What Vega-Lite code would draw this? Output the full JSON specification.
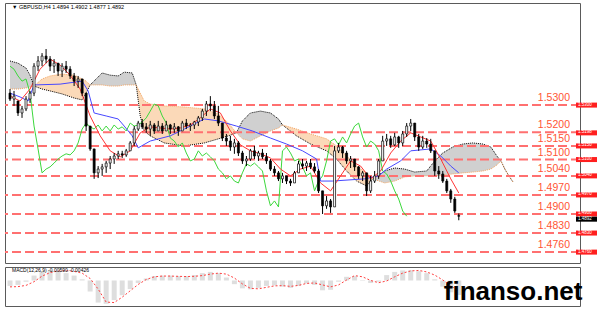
{
  "$schema": "https://vega.github.io/schema/vega-lite/v6.json",
  "background": "white",
  "padding": {"left": 3, "top": 2, "right": 0, "bottom": 0},
  "spacing": 2,
  "config": {"view": {"stroke": "#5a5a5a", "strokeWidth": 1}, "font": "Liberation Sans"},
  "datasets": {
    "candles": [
      {"i":0,"o":1.5344,"h":1.5359,"l":1.5315,"c":1.5322},{"i":2,"o":1.5322,"h":1.5352,"l":1.5297,"c":1.5333},
      {"i":4,"o":1.5315,"h":1.5315,"l":1.5260,"c":1.5271},{"i":6,"o":1.5271,"h":1.5297,"l":1.5253,"c":1.5286},
      {"i":8,"o":1.5286,"h":1.5333,"l":1.5278,"c":1.5322},{"i":10,"o":1.5322,"h":1.5352,"l":1.5308,"c":1.5344},
      {"i":12,"o":1.5344,"h":1.5454,"l":1.5333,"c":1.5443},{"i":14,"o":1.5443,"h":1.5480,"l":1.5425,"c":1.5462},
      {"i":16,"o":1.5462,"h":1.5491,"l":1.5443,"c":1.5480},{"i":18,"o":1.5480,"h":1.5506,"l":1.5454,"c":1.5469},
      {"i":20,"o":1.5469,"h":1.5480,"l":1.5425,"c":1.5443},{"i":22,"o":1.5443,"h":1.5469,"l":1.5418,"c":1.5454},
      {"i":24,"o":1.5454,"h":1.5454,"l":1.5407,"c":1.5425},{"i":26,"o":1.5425,"h":1.5454,"l":1.5403,"c":1.5443},
      {"i":28,"o":1.5443,"h":1.5462,"l":1.5418,"c":1.5432},{"i":30,"o":1.5432,"h":1.5443,"l":1.5396,"c":1.5407},
      {"i":32,"o":1.5407,"h":1.5418,"l":1.5370,"c":1.5388},{"i":34,"o":1.5388,"h":1.5407,"l":1.5363,"c":1.5396},
      {"i":36,"o":1.5396,"h":1.5396,"l":1.5333,"c":1.5344},{"i":38,"o":1.5344,"h":1.5344,"l":1.5205,"c":1.5223},
      {"i":40,"o":1.5223,"h":1.5223,"l":1.5132,"c":1.5139},{"i":42,"o":1.5139,"h":1.5139,"l":1.5029,"c":1.5051},
      {"i":44,"o":1.5051,"h":1.5076,"l":1.5032,"c":1.5065},{"i":46,"o":1.5065,"h":1.5084,"l":1.5040,"c":1.5073},
      {"i":48,"o":1.5073,"h":1.5095,"l":1.5051,"c":1.5087},{"i":50,"o":1.5087,"h":1.5113,"l":1.5065,"c":1.5102},
      {"i":52,"o":1.5102,"h":1.5124,"l":1.5084,"c":1.5113},{"i":54,"o":1.5113,"h":1.5132,"l":1.5102,"c":1.5121},
      {"i":56,"o":1.5121,"h":1.5132,"l":1.5106,"c":1.5117},{"i":58,"o":1.5117,"h":1.5139,"l":1.5110,"c":1.5132},
      {"i":60,"o":1.5132,"h":1.5168,"l":1.5132,"c":1.5161},{"i":62,"o":1.5161,"h":1.5223,"l":1.5150,"c":1.5212},
      {"i":64,"o":1.5212,"h":1.5242,"l":1.5205,"c":1.5234},{"i":66,"o":1.5234,"h":1.5249,"l":1.5212,"c":1.5220},
      {"i":68,"o":1.5220,"h":1.5234,"l":1.5198,"c":1.5212},{"i":70,"o":1.5212,"h":1.5242,"l":1.5187,"c":1.5227},
      {"i":72,"o":1.5227,"h":1.5234,"l":1.5194,"c":1.5205},{"i":74,"o":1.5205,"h":1.5242,"l":1.5205,"c":1.5223},
      {"i":76,"o":1.5223,"h":1.5234,"l":1.5194,"c":1.5205},{"i":78,"o":1.5205,"h":1.5242,"l":1.5205,"c":1.5227},
      {"i":80,"o":1.5227,"h":1.5231,"l":1.5194,"c":1.5212},{"i":82,"o":1.5212,"h":1.5234,"l":1.5198,"c":1.5220},
      {"i":84,"o":1.5220,"h":1.5223,"l":1.5187,"c":1.5205},{"i":86,"o":1.5205,"h":1.5242,"l":1.5205,"c":1.5234},
      {"i":88,"o":1.5234,"h":1.5249,"l":1.5212,"c":1.5223},{"i":90,"o":1.5223,"h":1.5234,"l":1.5205,"c":1.5227},
      {"i":92,"o":1.5227,"h":1.5242,"l":1.5212,"c":1.5238},{"i":94,"o":1.5238,"h":1.5260,"l":1.5223,"c":1.5253},
      {"i":96,"o":1.5253,"h":1.5286,"l":1.5242,"c":1.5278},{"i":98,"o":1.5278,"h":1.5315,"l":1.5260,"c":1.5304},
      {"i":100,"o":1.5304,"h":1.5333,"l":1.5278,"c":1.5297},{"i":102,"o":1.5297,"h":1.5315,"l":1.5249,"c":1.5260},
      {"i":104,"o":1.5260,"h":1.5297,"l":1.5223,"c":1.5234},{"i":106,"o":1.5234,"h":1.5234,"l":1.5168,"c":1.5179},
      {"i":108,"o":1.5179,"h":1.5194,"l":1.5150,"c":1.5168},{"i":110,"o":1.5168,"h":1.5187,"l":1.5132,"c":1.5146},
      {"i":112,"o":1.5146,"h":1.5176,"l":1.5121,"c":1.5161},{"i":114,"o":1.5161,"h":1.5168,"l":1.5113,"c":1.5124},
      {"i":116,"o":1.5124,"h":1.5132,"l":1.5084,"c":1.5095},{"i":118,"o":1.5095,"h":1.5113,"l":1.5076,"c":1.5102},
      {"i":120,"o":1.5102,"h":1.5139,"l":1.5095,"c":1.5132},{"i":122,"o":1.5132,"h":1.5150,"l":1.5102,"c":1.5113},
      {"i":124,"o":1.5113,"h":1.5132,"l":1.5095,"c":1.5124},{"i":126,"o":1.5124,"h":1.5139,"l":1.5102,"c":1.5110},
      {"i":128,"o":1.5110,"h":1.5124,"l":1.5084,"c":1.5095},{"i":130,"o":1.5095,"h":1.5102,"l":1.5058,"c":1.5065},
      {"i":132,"o":1.5065,"h":1.5076,"l":1.5040,"c":1.5051},{"i":134,"o":1.5051,"h":1.5058,"l":1.5021,"c":1.5029},
      {"i":136,"o":1.5029,"h":1.5051,"l":1.5014,"c":1.5040},{"i":138,"o":1.5040,"h":1.5040,"l":1.5010,"c":1.5021},
      {"i":140,"o":1.5021,"h":1.5029,"l":1.5003,"c":1.5014},{"i":142,"o":1.5014,"h":1.5058,"l":1.5014,"c":1.5051},
      {"i":144,"o":1.5051,"h":1.5095,"l":1.5051,"c":1.5084},{"i":146,"o":1.5084,"h":1.5102,"l":1.5065,"c":1.5076},
      {"i":148,"o":1.5076,"h":1.5095,"l":1.5058,"c":1.5087},{"i":150,"o":1.5087,"h":1.5102,"l":1.5065,"c":1.5073},
      {"i":152,"o":1.5073,"h":1.5087,"l":1.5051,"c":1.5058},{"i":154,"o":1.5058,"h":1.5065,"l":1.4977,"c":1.4985},
      {"i":156,"o":1.4985,"h":1.4985,"l":1.4900,"c":1.4930},{"i":158,"o":1.4930,"h":1.4966,"l":1.4919,"c":1.4948},
      {"i":160,"o":1.4948,"h":1.4955,"l":1.4904,"c":1.4926},{"i":162,"o":1.4926,"h":1.5150,"l":1.4926,"c":1.5132},
      {"i":164,"o":1.5132,"h":1.5161,"l":1.5124,"c":1.5146},{"i":166,"o":1.5146,"h":1.5150,"l":1.5106,"c":1.5124},
      {"i":168,"o":1.5124,"h":1.5132,"l":1.5084,"c":1.5095},{"i":170,"o":1.5095,"h":1.5113,"l":1.5069,"c":1.5102},
      {"i":172,"o":1.5102,"h":1.5102,"l":1.5058,"c":1.5073},{"i":174,"o":1.5073,"h":1.5076,"l":1.5029,"c":1.5040},
      {"i":176,"o":1.5040,"h":1.5058,"l":1.5021,"c":1.5051},{"i":178,"o":1.5051,"h":1.5051,"l":1.4966,"c":1.4985},
      {"i":180,"o":1.4985,"h":1.5040,"l":1.4977,"c":1.5021},{"i":182,"o":1.5021,"h":1.5058,"l":1.5014,"c":1.5040},
      {"i":184,"o":1.5040,"h":1.5102,"l":1.5029,"c":1.5095},{"i":186,"o":1.5095,"h":1.5187,"l":1.5095,"c":1.5168},
      {"i":188,"o":1.5168,"h":1.5194,"l":1.5150,"c":1.5176},{"i":190,"o":1.5176,"h":1.5187,"l":1.5143,"c":1.5154},
      {"i":192,"o":1.5154,"h":1.5198,"l":1.5150,"c":1.5183},{"i":194,"o":1.5183,"h":1.5187,"l":1.5143,"c":1.5161},
      {"i":196,"o":1.5161,"h":1.5205,"l":1.5150,"c":1.5194},{"i":198,"o":1.5194,"h":1.5234,"l":1.5183,"c":1.5223},
      {"i":200,"o":1.5223,"h":1.5249,"l":1.5205,"c":1.5234},{"i":202,"o":1.5234,"h":1.5234,"l":1.5168,"c":1.5183},
      {"i":204,"o":1.5183,"h":1.5194,"l":1.5132,"c":1.5146},{"i":206,"o":1.5146,"h":1.5187,"l":1.5139,"c":1.5168},
      {"i":208,"o":1.5168,"h":1.5179,"l":1.5143,"c":1.5157},{"i":210,"o":1.5157,"h":1.5176,"l":1.5124,"c":1.5132},
      {"i":212,"o":1.5132,"h":1.5132,"l":1.5040,"c":1.5058},{"i":214,"o":1.5058,"h":1.5076,"l":1.5029,"c":1.5047},
      {"i":216,"o":1.5047,"h":1.5058,"l":1.5014,"c":1.5021},{"i":218,"o":1.5021,"h":1.5029,"l":1.4977,"c":1.4985},
      {"i":220,"o":1.4985,"h":1.4992,"l":1.4941,"c":1.4955},{"i":222,"o":1.4955,"h":1.4963,"l":1.4904,"c":1.4911},
      {"i":224,"o":1.4894,"h":1.4902,"l":1.4877,"c":1.4892}
    ],
    "tenkan": [
      {"i":0,"v":1.5333},{"i":5,"v":1.5315},{"i":10,"v":1.5359},{"i":15,"v":1.5432},{"i":20,"v":1.5469},
      {"i":25,"v":1.5447},{"i":30,"v":1.5410},{"i":35,"v":1.5359},{"i":40,"v":1.5260},{"i":45,"v":1.5187},
      {"i":50,"v":1.5132},{"i":55,"v":1.5110},{"i":60,"v":1.5132},{"i":65,"v":1.5198},{"i":70,"v":1.5220},
      {"i":75,"v":1.5216},{"i":80,"v":1.5212},{"i":85,"v":1.5216},{"i":90,"v":1.5227},{"i":95,"v":1.5253},
      {"i":100,"v":1.5286},{"i":105,"v":1.5271},{"i":110,"v":1.5205},{"i":115,"v":1.5154},{"i":120,"v":1.5132},
      {"i":125,"v":1.5121},{"i":130,"v":1.5106},{"i":135,"v":1.5065},{"i":140,"v":1.5040},{"i":145,"v":1.5065},
      {"i":150,"v":1.5076},{"i":155,"v":1.5014},{"i":160,"v":1.4985},{"i":165,"v":1.5040},{"i":170,"v":1.5095},
      {"i":175,"v":1.5076},{"i":180,"v":1.5029},{"i":185,"v":1.5058},{"i":190,"v":1.5124},{"i":195,"v":1.5168},
      {"i":200,"v":1.5198},{"i":205,"v":1.5183},{"i":210,"v":1.5168},{"i":215,"v":1.5102},{"i":220,"v":1.5029},
      {"i":224,"v":1.4977}
    ],
    "kijun": [
      {"i":0,"v":1.5344},{"i":5,"v":1.5330},{"i":9,"v":1.5315},{"i":12,"v":1.5374},{"i":25,"v":1.5377},
      {"i":36,"v":1.5388},{"i":39,"v":1.5352},{"i":42,"v":1.5271},{"i":48,"v":1.5260},{"i":54,"v":1.5249},
      {"i":57,"v":1.5223},{"i":61,"v":1.5187},{"i":64,"v":1.5143},{"i":70,"v":1.5168},{"i":80,"v":1.5187},
      {"i":87,"v":1.5212},{"i":97,"v":1.5249},{"i":104,"v":1.5242},{"i":113,"v":1.5223},{"i":121,"v":1.5205},
      {"i":130,"v":1.5179},{"i":138,"v":1.5157},{"i":146,"v":1.5132},{"i":153,"v":1.5102},{"i":155,"v":1.5021},
      {"i":161,"v":1.5021},{"i":177,"v":1.5029},{"i":184,"v":1.5040},{"i":188,"v":1.5065},{"i":195,"v":1.5095},
      {"i":200,"v":1.5132},{"i":210,"v":1.5139},{"i":215,"v":1.5113},{"i":220,"v":1.5076},{"i":224,"v":1.5051}
    ],
    "chikou": [
      {"i":0,"v":1.5443},{"i":2,"v":1.5432},{"i":4,"v":1.5407},{"i":6,"v":1.5388},{"i":8,"v":1.5396},
      {"i":10,"v":1.5344},{"i":12,"v":1.5223},{"i":14,"v":1.5139},{"i":16,"v":1.5051},{"i":18,"v":1.5065},
      {"i":20,"v":1.5073},{"i":22,"v":1.5087},{"i":24,"v":1.5102},{"i":26,"v":1.5113},{"i":28,"v":1.5121},
      {"i":30,"v":1.5117},{"i":32,"v":1.5132},{"i":34,"v":1.5161},{"i":36,"v":1.5212},{"i":38,"v":1.5234},
      {"i":40,"v":1.5220},{"i":42,"v":1.5212},{"i":44,"v":1.5227},{"i":46,"v":1.5205},{"i":48,"v":1.5223},
      {"i":50,"v":1.5205},{"i":52,"v":1.5227},{"i":54,"v":1.5212},{"i":56,"v":1.5220},{"i":58,"v":1.5205},
      {"i":60,"v":1.5234},{"i":62,"v":1.5223},{"i":64,"v":1.5227},{"i":66,"v":1.5238},{"i":68,"v":1.5253},
      {"i":70,"v":1.5278},{"i":72,"v":1.5304},{"i":74,"v":1.5297},{"i":76,"v":1.5260},{"i":78,"v":1.5234},
      {"i":80,"v":1.5179},{"i":82,"v":1.5168},{"i":84,"v":1.5146},{"i":86,"v":1.5161},{"i":88,"v":1.5124},
      {"i":90,"v":1.5095},{"i":92,"v":1.5102},{"i":94,"v":1.5132},{"i":96,"v":1.5113},{"i":98,"v":1.5124},
      {"i":100,"v":1.5110},{"i":102,"v":1.5095},{"i":104,"v":1.5065},{"i":106,"v":1.5051},{"i":108,"v":1.5029},
      {"i":110,"v":1.5040},{"i":112,"v":1.5021},{"i":114,"v":1.5014},{"i":116,"v":1.5051},{"i":118,"v":1.5084},
      {"i":120,"v":1.5076},{"i":122,"v":1.5087},{"i":124,"v":1.5073},{"i":126,"v":1.5058},{"i":128,"v":1.4985},
      {"i":130,"v":1.4930},{"i":132,"v":1.4948},{"i":134,"v":1.4926},{"i":136,"v":1.5132},{"i":138,"v":1.5146},
      {"i":140,"v":1.5124},{"i":142,"v":1.5095},{"i":144,"v":1.5102},{"i":146,"v":1.5073},{"i":148,"v":1.5040},
      {"i":150,"v":1.5051},{"i":152,"v":1.4985},{"i":154,"v":1.5021},{"i":156,"v":1.5040},{"i":158,"v":1.5095},
      {"i":160,"v":1.5168},{"i":162,"v":1.5176},{"i":164,"v":1.5154},{"i":166,"v":1.5183},{"i":168,"v":1.5161},
      {"i":170,"v":1.5194},{"i":172,"v":1.5223},{"i":174,"v":1.5234},{"i":176,"v":1.5183},{"i":178,"v":1.5146},
      {"i":180,"v":1.5168},{"i":182,"v":1.5157},{"i":184,"v":1.5132},{"i":186,"v":1.5058},{"i":188,"v":1.5047},
      {"i":190,"v":1.5021},{"i":192,"v":1.4985},{"i":194,"v":1.4955},{"i":196,"v":1.4911},{"i":198,"v":1.4892}
    ],
    "cloud": [
      {"i":0,"a":1.5359,"b":1.5462,"s":1,"t":"dn"},{"i":4,"a":1.5359,"b":1.5454,"s":1,"t":"dn"},
      {"i":8,"a":1.5363,"b":1.5436,"s":1,"t":"dn"},{"i":10,"a":1.5366,"b":1.5410,"s":1,"t":"dn"},
      {"i":12,"a":1.5370,"b":1.5370,"s":1,"t":"dn"},
      {"i":12,"a":1.5370,"b":1.5370,"s":2,"t":"up"},{"i":16,"a":1.5396,"b":1.5359,"s":2,"t":"up"},
      {"i":20,"a":1.5407,"b":1.5352,"s":2,"t":"up"},{"i":26,"a":1.5414,"b":1.5341,"s":2,"t":"up"},
      {"i":32,"a":1.5410,"b":1.5326,"s":2,"t":"up"},{"i":36,"a":1.5396,"b":1.5319,"s":2,"t":"up"},
      {"i":38,"a":1.5388,"b":1.5344,"s":2,"t":"up"},{"i":40,"a":1.5374,"b":1.5374,"s":2,"t":"up"},
      {"i":40,"a":1.5374,"b":1.5374,"s":3,"t":"dn"},{"i":43,"a":1.5374,"b":1.5396,"s":3,"t":"dn"},
      {"i":46,"a":1.5374,"b":1.5418,"s":3,"t":"dn"},{"i":50,"a":1.5370,"b":1.5410,"s":3,"t":"dn"},
      {"i":54,"a":1.5370,"b":1.5407,"s":3,"t":"dn"},{"i":57,"a":1.5374,"b":1.5421,"s":3,"t":"dn"},
      {"i":61,"a":1.5374,"b":1.5418,"s":3,"t":"dn"},{"i":63,"a":1.5374,"b":1.5374,"s":3,"t":"dn"},
      {"i":63,"a":1.5374,"b":1.5374,"s":4,"t":"up"},{"i":65,"a":1.5344,"b":1.5260,"s":4,"t":"up"},
      {"i":67,"a":1.5315,"b":1.5205,"s":4,"t":"up"},{"i":70,"a":1.5304,"b":1.5187,"s":4,"t":"up"},
      {"i":77,"a":1.5297,"b":1.5161,"s":4,"t":"up"},{"i":87,"a":1.5293,"b":1.5150,"s":4,"t":"up"},
      {"i":97,"a":1.5286,"b":1.5161,"s":4,"t":"up"},{"i":104,"a":1.5267,"b":1.5176,"s":4,"t":"up"},
      {"i":109,"a":1.5234,"b":1.5187,"s":4,"t":"up"},{"i":113,"a":1.5198,"b":1.5198,"s":4,"t":"up"},
      {"i":113,"a":1.5198,"b":1.5198,"s":5,"t":"dn"},{"i":116,"a":1.5176,"b":1.5242,"s":5,"t":"dn"},
      {"i":120,"a":1.5168,"b":1.5271,"s":5,"t":"dn"},{"i":125,"a":1.5187,"b":1.5278,"s":5,"t":"dn"},
      {"i":130,"a":1.5205,"b":1.5271,"s":5,"t":"dn"},{"i":134,"a":1.5216,"b":1.5249,"s":5,"t":"dn"},
      {"i":136,"a":1.5227,"b":1.5227,"s":5,"t":"dn"},
      {"i":136,"a":1.5227,"b":1.5227,"s":6,"t":"up"},{"i":143,"a":1.5212,"b":1.5187,"s":6,"t":"up"},
      {"i":150,"a":1.5194,"b":1.5157,"s":6,"t":"up"},{"i":158,"a":1.5176,"b":1.5132,"s":6,"t":"up"},
      {"i":163,"a":1.5150,"b":1.5102,"s":6,"t":"up"},{"i":168,"a":1.5113,"b":1.5058,"s":6,"t":"up"},
      {"i":173,"a":1.5076,"b":1.5021,"s":6,"t":"up"},{"i":178,"a":1.5051,"b":1.5003,"s":6,"t":"up"},
      {"i":181,"a":1.5029,"b":1.5029,"s":6,"t":"up"},
      {"i":181,"a":1.5029,"b":1.5029,"s":7,"t":"dn"},{"i":187,"a":1.5014,"b":1.5058,"s":7,"t":"dn"},
      {"i":192,"a":1.5021,"b":1.5069,"s":7,"t":"dn"},{"i":197,"a":1.5036,"b":1.5065,"s":7,"t":"dn"},
      {"i":202,"a":1.5040,"b":1.5054,"s":7,"t":"dn"},{"i":208,"a":1.5040,"b":1.5058,"s":7,"t":"dn"},
      {"i":212,"a":1.5040,"b":1.5095,"s":7,"t":"dn"},{"i":216,"a":1.5043,"b":1.5124,"s":7,"t":"dn"},
      {"i":221,"a":1.5047,"b":1.5146,"s":7,"t":"dn"},{"i":226,"a":1.5051,"b":1.5157,"s":7,"t":"dn"},
      {"i":231,"a":1.5054,"b":1.5161,"s":7,"t":"dn"},{"i":236,"a":1.5058,"b":1.5157,"s":7,"t":"dn"},
      {"i":240,"a":1.5065,"b":1.5146,"s":7,"t":"dn"},{"i":243,"a":1.5080,"b":1.5113,"s":7,"t":"dn"},
      {"i":245,"a":1.5095,"b":1.5095,"s":7,"t":"dn"},
      {"i":245,"a":1.5095,"b":1.5095,"s":8,"t":"up"},{"i":247,"a":1.5065,"b":1.5065,"s":8,"t":"up"},
      {"i":249,"a":1.5040,"b":1.5040,"s":8,"t":"up"},{"i":251,"a":1.5018,"b":1.5018,"s":8,"t":"up"}
    ],
    "levels": [
      {"v":1.5300,"t":"1.5300"},{"v":1.5200,"t":"1.5200"},{"v":1.5150,"t":"1.5150"},{"v":1.5100,"t":"1.5100"},
      {"v":1.5040,"t":"1.5040"},{"v":1.4970,"t":"1.4970"},{"v":1.4900,"t":"1.4900"},{"v":1.4830,"t":"1.4830"},
      {"v":1.4760,"t":"1.4760"}
    ],
    "boxes": [
      {"v":1.5300,"t":"1.5300"},{"v":1.5198,"t":"1.5198"},{"v":1.5150,"t":"1.5150"},
      {"v":1.5100,"t":"1.5100"},{"v":1.5040,"t":"1.5040"},{"v":1.4970,"t":"1.4970"},
      {"v":1.4900,"t":"1.4900"},{"v":1.4830,"t":"1.4830"},{"v":1.4760,"t":"1.4760"}
    ],
    "bid": [{"v":1.4892,"t":"1.4892"}],
    "macd": [
      {"i":0,"m":-0.0022,"s":-0.0026},{"i":4,"m":-0.0018,"s":-0.0025},{"i":8,"m":-0.0005,"s":-0.0020},
      {"i":12,"m":0.0020,"s":-0.0005},{"i":16,"m":0.0038,"s":0.0018},{"i":20,"m":0.0041,"s":0.0032},
      {"i":24,"m":0.0038,"s":0.0039},{"i":28,"m":0.0030,"s":0.0040},{"i":32,"m":0.0020,"s":0.0037},
      {"i":36,"m":0.0005,"s":0.0030},{"i":40,"m":-0.0045,"s":0.0008},{"i":44,"m":-0.0090,"s":-0.0035},
      {"i":48,"m":-0.0095,"s":-0.0088},{"i":52,"m":-0.0080,"s":-0.0090},{"i":56,"m":-0.0060,"s":-0.0068},
      {"i":60,"m":-0.0035,"s":-0.0042},{"i":64,"m":-0.0010,"s":-0.0016},{"i":68,"m":0.0008,"s":0.0004},
      {"i":72,"m":0.0018,"s":0.0015},{"i":76,"m":0.0020,"s":0.0018},{"i":80,"m":0.0020,"s":0.0018},
      {"i":84,"m":0.0018,"s":0.0017},{"i":88,"m":0.0018,"s":0.0016},{"i":92,"m":0.0022,"s":0.0017},
      {"i":96,"m":0.0030,"s":0.0020},{"i":100,"m":0.0035,"s":0.0026},{"i":104,"m":0.0030,"s":0.0030},
      {"i":108,"m":0.0012,"s":0.0026},{"i":112,"m":-0.0015,"s":0.0010},{"i":116,"m":-0.0032,"s":-0.0014},
      {"i":120,"m":-0.0036,"s":-0.0032},{"i":124,"m":-0.0030,"s":-0.0034},{"i":128,"m":-0.0022,"s":-0.0028},
      {"i":132,"m":-0.0020,"s":-0.0022},{"i":136,"m":-0.0025,"s":-0.0021},{"i":140,"m":-0.0030,"s":-0.0024},
      {"i":144,"m":-0.0022,"s":-0.0020},{"i":148,"m":-0.0012,"s":-0.0012},{"i":152,"m":-0.0018,"s":-0.0010},
      {"i":156,"m":-0.0040,"s":-0.0018},{"i":160,"m":-0.0038,"s":-0.0026},{"i":164,"m":-0.0005,"s":-0.0018},
      {"i":168,"m":0.0015,"s":0.0002},{"i":172,"m":0.0018,"s":0.0020},{"i":176,"m":0.0002,"s":0.0015},
      {"i":180,"m":-0.0010,"s":0.0000},{"i":184,"m":-0.0005,"s":-0.0009},{"i":188,"m":0.0022,"s":-0.0002},
      {"i":192,"m":0.0035,"s":0.0015},{"i":196,"m":0.0041,"s":0.0030},{"i":200,"m":0.0042,"s":0.0039},
      {"i":204,"m":0.0038,"s":0.0041},{"i":208,"m":0.0030,"s":0.0035},{"i":212,"m":0.0005,"s":0.0022},
      {"i":216,"m":-0.0025,"s":0.0002},{"i":220,"m":-0.0048,"s":-0.0022},{"i":224,"m":-0.0059,"s":-0.0043}
    ],
    "hdr": [{"t":"▼ GBPUSD,H4  1.4894 1.4902 1.4877 1.4892"}],
    "mhdr": [{"t":"MACD(12,26,9) -0.00590 -0.00426"}],
    "wm": [{"t":"finanso.net"}]
  },
  "vconcat": [
    {
      "width": 575,
      "height": 260,
      "layer": [
        {
          "data": {"name": "cloud"},
          "mark": {"type": "area"},
          "encoding": {
            "x": {"field": "i", "type": "quantitative", "title": null, "scale": {"domain": [0, 282], "nice": false, "zero": false},
              "axis": {"values": [0,8,16,24,32,40,48,56,64,72,80,88,96,104,112,120,128,136,144,152,160,168,176,184,192,200,208,216,224,232,240,248,256,264,272,280], "labels": false, "ticks": false, "domain": false, "grid": true, "gridColor": "#b4b4b4", "gridDash": [1, 2], "title": null}},
            "y": {"field": "a", "type": "quantitative", "title": null, "scale": {"domain": [1.472, 1.5675], "nice": false, "zero": false},
              "axis": {"orient": "right", "values": [1.4725,1.479,1.4855,1.492,1.4985,1.505,1.5115,1.518,1.5245,1.531,1.5375,1.544,1.5505,1.557,1.5635], "format": ".4f", "labelFontSize": 5.5, "labelColor": "#000000", "tickSize": 2, "tickColor": "#000000", "labelPadding": 2, "domain": false, "grid": true, "gridColor": "#b4b4b4", "gridDash": [1, 2], "labelOverlap": false, "title": null}},
            "y2": {"field": "b"},
            "color": {"condition": {"test": "datum.t == 'up'", "value": "#fbd9b8"}, "value": "#d0d0d0"},
            "detail": {"field": "s", "type": "nominal"}
          }
        },
        {
          "data": {"name": "cloud"},
          "mark": {"type": "line", "stroke": "#000000", "strokeWidth": 1, "strokeDash": [1, 1]},
          "encoding": {
            "x": {"field": "i", "type": "quantitative", "title": null, "scale": {"domain": [0, 282], "nice": false, "zero": false}, "axis": null},
            "y": {"field": "b", "type": "quantitative", "title": null, "scale": {"domain": [1.472, 1.5675], "nice": false, "zero": false}, "axis": null}
          }
        },
        {
          "data": {"name": "cloud"},
          "mark": {"type": "line", "stroke": "#f4a460", "strokeWidth": 1, "strokeDash": [1, 1]},
          "encoding": {
            "x": {"field": "i", "type": "quantitative", "title": null, "scale": {"domain": [0, 282], "nice": false, "zero": false}, "axis": null},
            "y": {"field": "a", "type": "quantitative", "title": null, "scale": {"domain": [1.472, 1.5675], "nice": false, "zero": false}, "axis": null}
          }
        },
        {
          "data": {"name": "levels"},
          "mark": {"type": "rule", "stroke": "#ff7070", "strokeWidth": 2, "strokeDash": [9, 4]},
          "encoding": {
            "y": {"field": "v", "type": "quantitative", "title": null, "scale": {"domain": [1.472, 1.5675], "nice": false, "zero": false}, "axis": null}
          }
        },
        {
          "data": {"name": "chikou"},
          "mark": {"type": "line", "stroke": "#3cd83c", "strokeWidth": 1},
          "encoding": {
            "x": {"field": "i", "type": "quantitative", "title": null, "scale": {"domain": [0, 282], "nice": false, "zero": false}, "axis": null},
            "y": {"field": "v", "type": "quantitative", "title": null, "scale": {"domain": [1.472, 1.5675], "nice": false, "zero": false}, "axis": null}
          }
        },
        {
          "data": {"name": "kijun"},
          "mark": {"type": "line", "stroke": "#4848ff", "strokeWidth": 1},
          "encoding": {
            "x": {"field": "i", "type": "quantitative", "title": null, "scale": {"domain": [0, 282], "nice": false, "zero": false}, "axis": null},
            "y": {"field": "v", "type": "quantitative", "title": null, "scale": {"domain": [1.472, 1.5675], "nice": false, "zero": false}, "axis": null}
          }
        },
        {
          "data": {"name": "tenkan"},
          "mark": {"type": "line", "stroke": "#ff3535", "strokeWidth": 1},
          "encoding": {
            "x": {"field": "i", "type": "quantitative", "title": null, "scale": {"domain": [0, 282], "nice": false, "zero": false}, "axis": null},
            "y": {"field": "v", "type": "quantitative", "title": null, "scale": {"domain": [1.472, 1.5675], "nice": false, "zero": false}, "axis": null}
          }
        },
        {
          "data": {"name": "candles"},
          "mark": {"type": "rule", "stroke": "#000000", "strokeWidth": 1},
          "encoding": {
            "x": {"field": "i", "type": "quantitative", "title": null, "scale": {"domain": [0, 282], "nice": false, "zero": false}, "axis": null},
            "y": {"field": "l", "type": "quantitative", "title": null, "scale": {"domain": [1.472, 1.5675], "nice": false, "zero": false}, "axis": null},
            "y2": {"field": "h"}
          }
        },
        {
          "data": {"name": "candles"},
          "mark": {"type": "bar", "width": 2, "stroke": "#000000", "strokeWidth": 0.7},
          "encoding": {
            "x": {"field": "i", "type": "quantitative", "title": null, "scale": {"domain": [0, 282], "nice": false, "zero": false}, "axis": null},
            "y": {"field": "o", "type": "quantitative", "title": null, "scale": {"domain": [1.472, 1.5675], "nice": false, "zero": false}, "axis": null},
            "y2": {"field": "c"},
            "color": {"condition": {"test": "datum.c >= datum.o", "value": "#ffffff"}, "value": "#000000"}
          }
        },
        {
          "data": {"name": "levels"},
          "mark": {"type": "text", "align": "right", "baseline": "bottom", "dy": -2, "fontSize": 10.5, "color": "#ff5533"},
          "encoding": {
            "x": {"datum": 279.5, "type": "quantitative", "scale": {"domain": [0, 282], "nice": false, "zero": false}, "axis": null},
            "y": {"field": "v", "type": "quantitative", "title": null, "scale": {"domain": [1.472, 1.5675], "nice": false, "zero": false}, "axis": null},
            "text": {"field": "t"}
          }
        },
        {
          "data": {"name": "boxes"},
          "mark": {"type": "point", "shape": "M0,-1H8.4V1H0Z", "filled": true, "size": 25, "opacity": 1, "xOffset": 1, "color": "#ff1f1f", "strokeWidth": 0},
          "encoding": {
            "x": {"datum": 282, "type": "quantitative", "scale": {"domain": [0, 282], "nice": false, "zero": false}, "axis": null},
            "y": {"field": "v", "type": "quantitative", "title": null, "scale": {"domain": [1.472, 1.5675], "nice": false, "zero": false}, "axis": null}
          }
        },
        {
          "data": {"name": "bid"},
          "mark": {"type": "point", "shape": "M0,-1H8.4V1H0Z", "filled": true, "size": 25, "opacity": 1, "xOffset": 1, "yOffset": 3, "color": "#000000", "strokeWidth": 0},
          "encoding": {
            "x": {"datum": 282, "type": "quantitative", "scale": {"domain": [0, 282], "nice": false, "zero": false}, "axis": null},
            "y": {"field": "v", "type": "quantitative", "title": null, "scale": {"domain": [1.472, 1.5675], "nice": false, "zero": false}, "axis": null}
          }
        },
        {
          "data": {"name": "boxes"},
          "mark": {"type": "text", "align": "left", "baseline": "middle", "dx": 3, "dy": -0.5, "fontSize": 4.5, "color": "#ffffff"},
          "encoding": {
            "x": {"datum": 282, "type": "quantitative", "scale": {"domain": [0, 282], "nice": false, "zero": false}, "axis": null},
            "y": {"field": "v", "type": "quantitative", "title": null, "scale": {"domain": [1.472, 1.5675], "nice": false, "zero": false}, "axis": null},
            "text": {"field": "t"}
          }
        },
        {
          "data": {"name": "bid"},
          "mark": {"type": "text", "align": "left", "baseline": "middle", "dx": 3, "dy": 3, "fontSize": 4.5, "color": "#ffffff"},
          "encoding": {
            "x": {"datum": 282, "type": "quantitative", "scale": {"domain": [0, 282], "nice": false, "zero": false}, "axis": null},
            "y": {"field": "v", "type": "quantitative", "title": null, "scale": {"domain": [1.472, 1.5675], "nice": false, "zero": false}, "axis": null},
            "text": {"field": "t"}
          }
        },
        {
          "data": {"name": "hdr"},
          "mark": {"type": "text", "align": "left", "baseline": "top", "dx": 2, "dy": 2, "fontSize": 5.5, "color": "#000000", "font": "Liberation Sans, DejaVu Sans"},
          "encoding": {
            "x": {"datum": 0, "type": "quantitative", "scale": {"domain": [0, 282], "nice": false, "zero": false}, "axis": null},
            "y": {"datum": 1.5675, "type": "quantitative", "scale": {"domain": [1.472, 1.5675], "nice": false, "zero": false}, "axis": null},
            "text": {"field": "t"}
          }
        }
      ]
    },
    {
      "width": 575,
      "height": 39,
      "layer": [
        {
          "data": {"name": "macd"},
          "mark": {"type": "bar", "width": 5, "fill": "#dedede", "strokeWidth": 0},
          "encoding": {
            "x": {"field": "i", "type": "quantitative", "title": null, "scale": {"domain": [0, 282], "nice": false, "zero": false},
              "axis": {"values": [0,8,16,24,32,40,48,56,64,72,80,88,96,104,112,120,128,136,144,152,160,168,176,184,192,200,208,216,224,232,240,248,256,264,272,280],
                "labelExpr": "datum.value % 16 == 0 && datum.value <= 224 ? ['28 Oct 2015','2 Nov 04:00','4 Nov 20:00','9 Nov 08:00','12 Nov 00:00','16 Nov 12:00','19 Nov 04:00','23 Nov 16:00','26 Nov 08:00','30 Nov 20:00','3 Dec 12:00','8 Dec 00:00','10 Dec 16:00','15 Dec 04:00','17 Dec 20:00'][datum.value / 16] : ''",
                "labelFontSize": 5, "labelColor": "#000000", "labelAlign": "left", "labelBaseline": "top", "labelPadding": 3, "ticks": false, "domain": false, "grid": true, "gridColor": "#b4b4b4", "gridDash": [1, 2], "labelOverlap": false, "labelFlush": false, "labelBound": false, "title": null}},
            "y": {"field": "m", "type": "quantitative", "title": null, "scale": {"domain": [-0.0104, 0.0055], "nice": false, "zero": false},
              "axis": {"orient": "right", "values": [0.00418, 0, -0.00954], "labelExpr": "datum.value > 0.001 ? '0.00418' : (datum.value < -0.001 ? '-0.00954' : '0.00')", "labelFontSize": 5, "labelColor": "#000000", "tickSize": 2, "tickColor": "#000000", "labelPadding": 2, "domain": false, "grid": false, "labelOverlap": false, "title": null}}
          }
        },
        {
          "data": {"name": "macd"},
          "mark": {"type": "line", "stroke": "#ff4040", "strokeWidth": 1, "strokeDash": [2, 2]},
          "encoding": {
            "x": {"field": "i", "type": "quantitative", "title": null, "scale": {"domain": [0, 282], "nice": false, "zero": false}, "axis": null},
            "y": {"field": "s", "type": "quantitative", "title": null, "scale": {"domain": [-0.0104, 0.0055], "nice": false, "zero": false}, "axis": null}
          }
        },
        {
          "data": {"name": "mhdr"},
          "mark": {"type": "text", "align": "left", "baseline": "top", "dx": 2, "dy": 1, "fontSize": 5, "color": "#000000"},
          "encoding": {
            "x": {"datum": 0, "type": "quantitative", "scale": {"domain": [0, 282], "nice": false, "zero": false}, "axis": null},
            "y": {"datum": 0.0055, "type": "quantitative", "scale": {"domain": [-0.0104, 0.0055], "nice": false, "zero": false}, "axis": null},
            "text": {"field": "t"}
          }
        },
        {
          "data": {"name": "wm"},
          "mark": {"type": "text", "align": "left", "baseline": "alphabetic", "fontSize": 26, "fontWeight": "bold", "color": "#000000", "font": "Liberation Sans"},
          "encoding": {
            "x": {"datum": 216.5, "type": "quantitative", "scale": {"domain": [0, 282], "nice": false, "zero": false}, "axis": null},
            "y": {"datum": -0.0080, "type": "quantitative", "scale": {"domain": [-0.0104, 0.0055], "nice": false, "zero": false}, "axis": null},
            "text": {"field": "t"}
          }
        }
      ]
    }
  ]
}
